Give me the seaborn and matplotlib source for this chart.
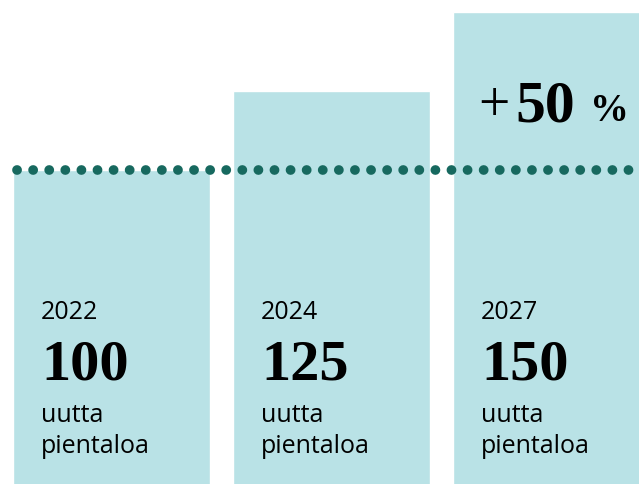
import matplotlib
matplotlib.use("Agg")
import matplotlib.pyplot as plt
import seaborn as sns
import pandas as pd

years = ["2022", "2024", "2027"]
values = [100, 125, 150]
unit_line1 = "uutta"
unit_line2 = "pientaloa"

bar_color = "#b9e2e6"
dot_color = "#17695f"

df = pd.DataFrame({"year": years, "value": values})

sns.set_theme(style="white")
fig = plt.figure(figsize=(6.39, 4.84), dpi=100)
ax = fig.add_axes([0, 0, 1, 1])

sns.barplot(data=df, x="year", y="value", color=bar_color, width=0.895,
            saturation=1, ax=ax)

ax.set_xlim(-0.507, 2.398)
ax.set_ylim(0.6, 153.8)
ax.axis("off")

# dotted reference line at the 2022 level
base = values[0]
ax.axhline(base, xmin=17 / 639, xmax=1, color=dot_color, linewidth=7,
           linestyle=(0, (0.01, 1.645)), dash_capstyle="round", zorder=3)

sans = "Open Sans"
serif = "Liberation Serif"
for i, (yr, v) in enumerate(zip(years, values)):
    x0 = i - 0.32
    ax.text(x0, 52.8, yr, family=sans, fontsize=18, color="black", va="baseline")
    ax.text(x0, 33.6, str(v), family=serif, fontweight="bold", fontsize=42,
            color="black", va="baseline")
    ax.text(x0, 20.3, unit_line1, family=sans, fontsize=18, color="black", va="baseline")
    ax.text(x0, 10.4, unit_line2, family=sans, fontsize=18, color="black", va="baseline")

growth = round((values[-1] - values[0]) / values[0] * 100)
ax.text(1.665, 115.5, "+", family=serif, fontsize=40, color="black", va="baseline")
ax.text(1.835, 115.5, str(growth), family=serif, fontweight="bold", fontsize=43,
        color="black", va="baseline")
ax.text(2.175, 115.5, "%", family=serif, fontweight="bold", fontsize=28,
        color="black", va="baseline")

fig.savefig("out.png", dpi=100)
